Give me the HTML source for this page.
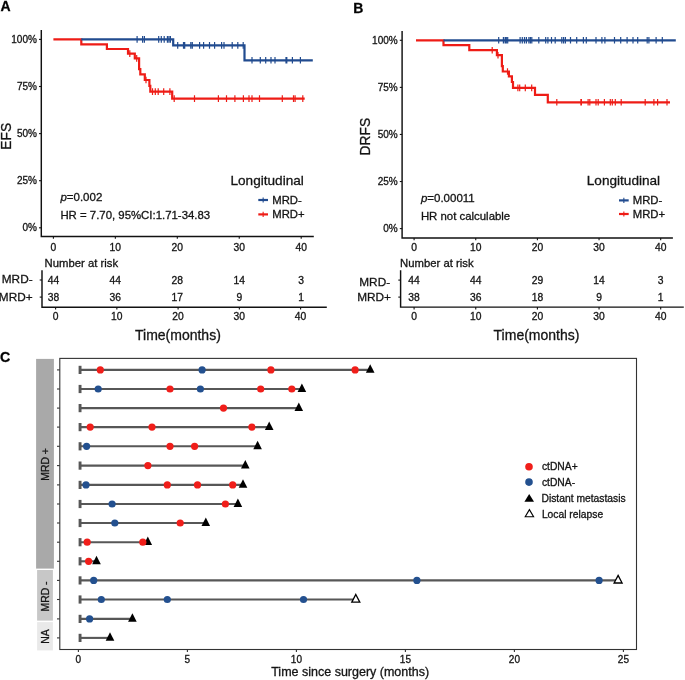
<!DOCTYPE html>
<html><head><meta charset="utf-8"><style>
html,body{margin:0;padding:0;background:#fff;width:685px;height:680px;overflow:hidden}
svg{display:block;font-family:"Liberation Sans", sans-serif;filter:blur(0.3px)}
text{stroke:#111;stroke-width:0.3px}
</style></head><body><svg width="685" height="680" viewBox="0 0 685 680" font-family='"Liberation Sans", sans-serif'><path d="M41.3,30 V236.4 H313.8" fill="none" stroke="#111" stroke-width="1.45"/><line x1="39.00" y1="39.40" x2="41.30" y2="39.40" stroke="#111" stroke-width="1.1"/><text x="36.90" y="43.00" font-size="10.0" text-anchor="end" font-weight="normal" fill="#161616" >100%</text><line x1="39.00" y1="86.50" x2="41.30" y2="86.50" stroke="#111" stroke-width="1.1"/><text x="36.90" y="90.10" font-size="10.0" text-anchor="end" font-weight="normal" fill="#161616" >75%</text><line x1="39.00" y1="133.60" x2="41.30" y2="133.60" stroke="#111" stroke-width="1.1"/><text x="36.90" y="137.20" font-size="10.0" text-anchor="end" font-weight="normal" fill="#161616" >50%</text><line x1="39.00" y1="180.70" x2="41.30" y2="180.70" stroke="#111" stroke-width="1.1"/><text x="36.90" y="184.30" font-size="10.0" text-anchor="end" font-weight="normal" fill="#161616" >25%</text><line x1="39.00" y1="227.80" x2="41.30" y2="227.80" stroke="#111" stroke-width="1.1"/><text x="36.90" y="231.40" font-size="10.0" text-anchor="end" font-weight="normal" fill="#161616" >0%</text><line x1="53.40" y1="236.40" x2="53.40" y2="238.70" stroke="#111" stroke-width="1.1"/><text x="53.40" y="250.70" font-size="10.3" text-anchor="middle" font-weight="normal" fill="#161616" >0</text><line x1="115.35" y1="236.40" x2="115.35" y2="238.70" stroke="#111" stroke-width="1.1"/><text x="115.35" y="250.70" font-size="10.3" text-anchor="middle" font-weight="normal" fill="#161616" >10</text><line x1="177.30" y1="236.40" x2="177.30" y2="238.70" stroke="#111" stroke-width="1.1"/><text x="177.30" y="250.70" font-size="10.3" text-anchor="middle" font-weight="normal" fill="#161616" >20</text><line x1="239.25" y1="236.40" x2="239.25" y2="238.70" stroke="#111" stroke-width="1.1"/><text x="239.25" y="250.70" font-size="10.3" text-anchor="middle" font-weight="normal" fill="#161616" >30</text><line x1="301.20" y1="236.40" x2="301.20" y2="238.70" stroke="#111" stroke-width="1.1"/><text x="301.20" y="250.70" font-size="10.3" text-anchor="middle" font-weight="normal" fill="#161616" >40</text><text x="0" y="0" font-size="13.8" text-anchor="middle" fill="#161616" transform="translate(11.0,136.3) rotate(-90)">EFS</text><path d="M53.4,39.4 H81.3 V44.4 H106.9 V49.0 H128.0 V53.6 H134.8 V58.4 H139.1 V69.1 H140.3 V74.3 H144.8 V80.0 H149.4 V85.8 H150.3 V91.6 H172.2 V98.6 H304.7" fill="none" stroke="#ee1c16" stroke-width="2.2" stroke-linejoin="miter" stroke-linecap="butt"/><path d="M81.3,39.4 H173.2 V45.4 H244.5 V60.3 H312.8" fill="none" stroke="#214b8f" stroke-width="2.2" stroke-linejoin="miter" stroke-linecap="butt"/><path d="M129.80,50.30V56.90M136.70,55.10V61.70M146.00,76.70V83.30M152.50,88.30V94.90M155.30,88.30V94.90M158.20,88.30V94.90M163.70,88.30V94.90M169.90,88.30V94.90M174.20,95.30V101.90M194.50,95.30V101.90M218.40,95.30V101.90M226.50,95.30V101.90M234.90,95.30V101.90M243.40,95.30V101.90M249.00,95.30V101.90M252.00,95.30V101.90M259.50,95.30V101.90M282.30,95.30V101.90M293.50,95.30V101.90M295.10,95.30V101.90M302.80,95.30V101.90" stroke="#ee1c16" stroke-width="1.2"/><path d="M137.10,36.10V42.70M142.60,36.10V42.70M144.40,36.10V42.70M158.70,36.10V42.70M161.30,36.10V42.70M164.20,36.10V42.70M167.40,36.10V42.70M168.90,36.10V42.70M170.40,36.10V42.70M177.70,42.10V48.70M183.50,42.10V48.70M184.70,42.10V48.70M190.80,42.10V48.70M192.30,42.10V48.70M199.60,42.10V48.70M203.60,42.10V48.70M209.50,42.10V48.70M214.60,42.10V48.70M221.60,42.10V48.70M224.00,42.10V48.70M232.20,42.10V48.70M237.80,42.10V48.70M243.20,42.10V48.70M252.00,57.00V63.60M260.30,57.00V63.60M265.70,57.00V63.60M271.00,57.00V63.60M275.00,57.00V63.60M286.00,57.00V63.60M286.80,57.00V63.60M292.40,57.00V63.60M300.40,57.00V63.60" stroke="#214b8f" stroke-width="1.2"/><text x="60.4" y="201.3" font-size="11.5" fill="#161616"><tspan font-style="italic">p</tspan>=0.002</text><text x="60.40" y="218.90" font-size="11.4" text-anchor="start" font-weight="normal" fill="#161616" >HR = 7.70, 95%CI:1.71-34.83</text><text x="230.50" y="185.00" font-size="13.6" text-anchor="start" font-weight="normal" fill="#161616" >Longitudinal</text><line x1="258.30" y1="200.00" x2="268.00" y2="200.00" stroke="#214b8f" stroke-width="2.2"/><line x1="263.15" y1="197.40" x2="263.15" y2="202.60" stroke="#214b8f" stroke-width="1.1"/><line x1="258.30" y1="214.40" x2="268.00" y2="214.40" stroke="#ee1c16" stroke-width="2.2"/><line x1="263.15" y1="211.80" x2="263.15" y2="217.00" stroke="#ee1c16" stroke-width="1.1"/><text x="272.30" y="203.80" font-size="11.3" text-anchor="start" font-weight="normal" fill="#161616" >MRD-</text><text x="272.30" y="218.40" font-size="11.3" text-anchor="start" font-weight="normal" fill="#161616" >MRD+</text><text x="44.60" y="266.60" font-size="11.3" text-anchor="start" font-weight="normal" fill="#161616" >Number at risk</text><path d="M42.0,270.2 V307.3 H326.8" fill="none" stroke="#111" stroke-width="1.45"/><line x1="39.70" y1="280.00" x2="42.00" y2="280.00" stroke="#111" stroke-width="1.1"/><line x1="39.70" y1="297.10" x2="42.00" y2="297.10" stroke="#111" stroke-width="1.1"/><text x="32.60" y="283.10" font-size="11.8" text-anchor="end" font-weight="normal" fill="#161616" >MRD-</text><text x="32.60" y="301.00" font-size="11.8" text-anchor="end" font-weight="normal" fill="#161616" >MRD+</text><text x="53.40" y="283.70" font-size="10.3" text-anchor="middle" font-weight="normal" fill="#161616" >44</text><text x="53.40" y="300.80" font-size="10.3" text-anchor="middle" font-weight="normal" fill="#161616" >38</text><text x="115.35" y="283.70" font-size="10.3" text-anchor="middle" font-weight="normal" fill="#161616" >44</text><text x="115.35" y="300.80" font-size="10.3" text-anchor="middle" font-weight="normal" fill="#161616" >36</text><text x="177.30" y="283.70" font-size="10.3" text-anchor="middle" font-weight="normal" fill="#161616" >28</text><text x="177.30" y="300.80" font-size="10.3" text-anchor="middle" font-weight="normal" fill="#161616" >17</text><text x="239.25" y="283.70" font-size="10.3" text-anchor="middle" font-weight="normal" fill="#161616" >14</text><text x="239.25" y="300.80" font-size="10.3" text-anchor="middle" font-weight="normal" fill="#161616" >9</text><text x="301.20" y="283.70" font-size="10.3" text-anchor="middle" font-weight="normal" fill="#161616" >3</text><text x="301.20" y="300.80" font-size="10.3" text-anchor="middle" font-weight="normal" fill="#161616" >1</text><line x1="55.60" y1="307.30" x2="55.60" y2="309.60" stroke="#111" stroke-width="1.1"/><text x="55.60" y="319.80" font-size="10.3" text-anchor="middle" font-weight="normal" fill="#161616" >0</text><line x1="116.85" y1="307.30" x2="116.85" y2="309.60" stroke="#111" stroke-width="1.1"/><text x="116.85" y="319.80" font-size="10.3" text-anchor="middle" font-weight="normal" fill="#161616" >10</text><line x1="178.10" y1="307.30" x2="178.10" y2="309.60" stroke="#111" stroke-width="1.1"/><text x="178.10" y="319.80" font-size="10.3" text-anchor="middle" font-weight="normal" fill="#161616" >20</text><line x1="239.35" y1="307.30" x2="239.35" y2="309.60" stroke="#111" stroke-width="1.1"/><text x="239.35" y="319.80" font-size="10.3" text-anchor="middle" font-weight="normal" fill="#161616" >30</text><line x1="300.60" y1="307.30" x2="300.60" y2="309.60" stroke="#111" stroke-width="1.1"/><text x="300.60" y="319.80" font-size="10.3" text-anchor="middle" font-weight="normal" fill="#161616" >40</text><text x="177.90" y="339.70" font-size="14.0" text-anchor="middle" font-weight="normal" fill="#161616" >Time(months)</text><text x="0.60" y="11.30" font-size="14" text-anchor="start" font-weight="bold" fill="#000" >A</text><path d="M402.1,31.1 V237.9 H672.9" fill="none" stroke="#111" stroke-width="1.45"/><line x1="399.80" y1="40.30" x2="402.10" y2="40.30" stroke="#111" stroke-width="1.1"/><text x="397.70" y="43.90" font-size="10.0" text-anchor="end" font-weight="normal" fill="#161616" >100%</text><line x1="399.80" y1="87.38" x2="402.10" y2="87.38" stroke="#111" stroke-width="1.1"/><text x="397.70" y="90.97" font-size="10.0" text-anchor="end" font-weight="normal" fill="#161616" >75%</text><line x1="399.80" y1="134.45" x2="402.10" y2="134.45" stroke="#111" stroke-width="1.1"/><text x="397.70" y="138.05" font-size="10.0" text-anchor="end" font-weight="normal" fill="#161616" >50%</text><line x1="399.80" y1="181.53" x2="402.10" y2="181.53" stroke="#111" stroke-width="1.1"/><text x="397.70" y="185.13" font-size="10.0" text-anchor="end" font-weight="normal" fill="#161616" >25%</text><line x1="399.80" y1="228.60" x2="402.10" y2="228.60" stroke="#111" stroke-width="1.1"/><text x="397.70" y="232.20" font-size="10.0" text-anchor="end" font-weight="normal" fill="#161616" >0%</text><line x1="414.10" y1="237.90" x2="414.10" y2="240.20" stroke="#111" stroke-width="1.1"/><text x="414.10" y="251.00" font-size="10.3" text-anchor="middle" font-weight="normal" fill="#161616" >0</text><line x1="475.75" y1="237.90" x2="475.75" y2="240.20" stroke="#111" stroke-width="1.1"/><text x="475.75" y="251.00" font-size="10.3" text-anchor="middle" font-weight="normal" fill="#161616" >10</text><line x1="537.40" y1="237.90" x2="537.40" y2="240.20" stroke="#111" stroke-width="1.1"/><text x="537.40" y="251.00" font-size="10.3" text-anchor="middle" font-weight="normal" fill="#161616" >20</text><line x1="599.05" y1="237.90" x2="599.05" y2="240.20" stroke="#111" stroke-width="1.1"/><text x="599.05" y="251.00" font-size="10.3" text-anchor="middle" font-weight="normal" fill="#161616" >30</text><line x1="660.70" y1="237.90" x2="660.70" y2="240.20" stroke="#111" stroke-width="1.1"/><text x="660.70" y="251.00" font-size="10.3" text-anchor="middle" font-weight="normal" fill="#161616" >40</text><text x="0" y="0" font-size="13.8" text-anchor="middle" fill="#161616" transform="translate(370.0,136.6) rotate(-90)">DRFS</text><path d="M416.0,40.3 H443.5 V45.2 H469.3 V50.2 H496.9 V55.2 H501.9 V66.2 H502.8 V71.5 H508.9 V76.4 H511.9 V82.0 H513.0 V87.9 H535.0 V94.9 H547.8 V102.3 H670.0" fill="none" stroke="#ee1c16" stroke-width="2.2" stroke-linejoin="miter" stroke-linecap="butt"/><path d="M443.5,40.3 H675.8" fill="none" stroke="#214b8f" stroke-width="2.2" stroke-linejoin="miter" stroke-linecap="butt"/><path d="M492.20,46.90V53.50M498.00,51.90V58.50M507.50,68.20V74.80M517.90,84.60V91.20M519.70,84.60V91.20M525.30,84.60V91.20M531.70,84.60V91.20M556.80,99.00V105.60M580.90,99.00V105.60M581.40,99.00V105.60M588.10,99.00V105.60M589.80,99.00V105.60M596.00,99.00V105.60M598.20,99.00V105.60M604.40,99.00V105.60M610.30,99.00V105.60M612.30,99.00V105.60M615.30,99.00V105.60M621.20,99.00V105.60M645.20,99.00V105.60M653.90,99.00V105.60M657.60,99.00V105.60M667.00,99.00V105.60" stroke="#ee1c16" stroke-width="1.2"/><path d="M498.70,37.00V43.60M503.40,37.00V43.60M505.10,37.00V43.60M506.30,37.00V43.60M507.70,37.00V43.60M520.10,37.00V43.60M522.30,37.00V43.60M524.50,37.00V43.60M526.40,37.00V43.60M528.90,37.00V43.60M530.40,37.00V43.60M531.80,37.00V43.60M538.80,37.00V43.60M545.70,37.00V43.60M547.90,37.00V43.60M551.50,37.00V43.60M555.20,37.00V43.60M561.80,37.00V43.60M563.60,37.00V43.60M565.40,37.00V43.60M570.50,37.00V43.60M576.70,37.00V43.60M583.40,37.00V43.60M586.30,37.00V43.60M596.00,37.00V43.60M601.90,37.00V43.60M604.90,37.00V43.60M614.50,37.00V43.60M620.70,37.00V43.60M627.10,37.00V43.60M633.00,37.00V43.60M637.70,37.00V43.60M647.20,37.00V43.60M648.90,37.00V43.60M656.10,37.00V43.60M662.30,37.00V43.60" stroke="#214b8f" stroke-width="1.2"/><text x="420.9" y="201.9" font-size="11.5" fill="#161616"><tspan font-style="italic">p</tspan>=0.00011</text><text x="420.90" y="220.00" font-size="11.4" text-anchor="start" font-weight="normal" fill="#161616" >HR not calculable</text><text x="586.80" y="184.80" font-size="13.6" text-anchor="start" font-weight="normal" fill="#161616" >Longitudinal</text><line x1="619.00" y1="200.40" x2="628.70" y2="200.40" stroke="#214b8f" stroke-width="2.2"/><line x1="623.85" y1="197.80" x2="623.85" y2="203.00" stroke="#214b8f" stroke-width="1.1"/><line x1="619.00" y1="214.00" x2="628.70" y2="214.00" stroke="#ee1c16" stroke-width="2.2"/><line x1="623.85" y1="211.40" x2="623.85" y2="216.60" stroke="#ee1c16" stroke-width="1.1"/><text x="632.80" y="204.20" font-size="11.3" text-anchor="start" font-weight="normal" fill="#161616" >MRD-</text><text x="632.80" y="218.00" font-size="11.3" text-anchor="start" font-weight="normal" fill="#161616" >MRD+</text><text x="400.10" y="266.50" font-size="11.3" text-anchor="start" font-weight="normal" fill="#161616" >Number at risk</text><path d="M400.6,270.3 V307.1 H683.8" fill="none" stroke="#111" stroke-width="1.45"/><line x1="398.30" y1="280.10" x2="400.60" y2="280.10" stroke="#111" stroke-width="1.1"/><line x1="398.30" y1="297.10" x2="400.60" y2="297.10" stroke="#111" stroke-width="1.1"/><text x="390.10" y="286.00" font-size="11.8" text-anchor="end" font-weight="normal" fill="#161616" >MRD-</text><text x="390.90" y="301.00" font-size="11.8" text-anchor="end" font-weight="normal" fill="#161616" >MRD+</text><text x="414.10" y="283.80" font-size="10.3" text-anchor="middle" font-weight="normal" fill="#161616" >44</text><text x="414.10" y="300.80" font-size="10.3" text-anchor="middle" font-weight="normal" fill="#161616" >38</text><text x="475.75" y="283.80" font-size="10.3" text-anchor="middle" font-weight="normal" fill="#161616" >44</text><text x="475.75" y="300.80" font-size="10.3" text-anchor="middle" font-weight="normal" fill="#161616" >36</text><text x="537.40" y="283.80" font-size="10.3" text-anchor="middle" font-weight="normal" fill="#161616" >29</text><text x="537.40" y="300.80" font-size="10.3" text-anchor="middle" font-weight="normal" fill="#161616" >18</text><text x="599.05" y="283.80" font-size="10.3" text-anchor="middle" font-weight="normal" fill="#161616" >14</text><text x="599.05" y="300.80" font-size="10.3" text-anchor="middle" font-weight="normal" fill="#161616" >9</text><text x="660.70" y="283.80" font-size="10.3" text-anchor="middle" font-weight="normal" fill="#161616" >3</text><text x="660.70" y="300.80" font-size="10.3" text-anchor="middle" font-weight="normal" fill="#161616" >1</text><line x1="414.10" y1="307.10" x2="414.10" y2="309.40" stroke="#111" stroke-width="1.1"/><text x="414.10" y="319.60" font-size="10.3" text-anchor="middle" font-weight="normal" fill="#161616" >0</text><line x1="475.75" y1="307.10" x2="475.75" y2="309.40" stroke="#111" stroke-width="1.1"/><text x="475.75" y="319.60" font-size="10.3" text-anchor="middle" font-weight="normal" fill="#161616" >10</text><line x1="537.40" y1="307.10" x2="537.40" y2="309.40" stroke="#111" stroke-width="1.1"/><text x="537.40" y="319.60" font-size="10.3" text-anchor="middle" font-weight="normal" fill="#161616" >20</text><line x1="599.05" y1="307.10" x2="599.05" y2="309.40" stroke="#111" stroke-width="1.1"/><text x="599.05" y="319.60" font-size="10.3" text-anchor="middle" font-weight="normal" fill="#161616" >30</text><line x1="660.70" y1="307.10" x2="660.70" y2="309.40" stroke="#111" stroke-width="1.1"/><text x="660.70" y="319.60" font-size="10.3" text-anchor="middle" font-weight="normal" fill="#161616" >40</text><text x="536.50" y="340.00" font-size="14.0" text-anchor="middle" font-weight="normal" fill="#161616" >Time(months)</text><text x="353.20" y="12.90" font-size="14" text-anchor="start" font-weight="bold" fill="#000" >B</text><text x="0.10" y="361.70" font-size="14.2" text-anchor="start" font-weight="bold" fill="#000" >C</text><rect x="36.1" y="358.9" width="17.8" height="209.7" fill="#a9a9a9"/><rect x="37.1" y="570.0" width="15.8" height="50.6" fill="#c7c7c7"/><rect x="37.1" y="622.1" width="15.8" height="28.3" fill="#e9e9e9"/><text x="0" y="0" font-size="10.4" text-anchor="middle" fill="#161616" transform="translate(48.8,464.4) rotate(-90)">MRD +</text><text x="0" y="0" font-size="10.4" text-anchor="middle" fill="#161616" transform="translate(48.8,596.5) rotate(-90)">MRD -</text><text x="0" y="0" font-size="10.4" text-anchor="middle" fill="#161616" transform="translate(48.8,636.6) rotate(-90)">NA</text><rect x="59.8" y="358.4" width="576.7" height="291.1" fill="none" stroke="#333" stroke-width="1.1"/><line x1="57.00" y1="369.90" x2="59.80" y2="369.90" stroke="#333" stroke-width="1.1"/><line x1="80.00" y1="369.90" x2="369.90" y2="369.90" stroke="#575757" stroke-width="2.1"/><rect x="78.6" y="365.80" width="2.9" height="8.2" fill="#575757"/><path d="M370.20,364.30 L374.50,372.80 L365.90,372.80 Z" fill="#000"/><circle cx="100.30" cy="369.90" r="3.6" fill="#f01e1a"/><circle cx="202.10" cy="369.90" r="3.6" fill="#23508f"/><circle cx="270.90" cy="369.90" r="3.6" fill="#f01e1a"/><circle cx="355.10" cy="369.90" r="3.6" fill="#f01e1a"/><line x1="57.00" y1="389.00" x2="59.80" y2="389.00" stroke="#333" stroke-width="1.1"/><line x1="80.00" y1="389.00" x2="301.60" y2="389.00" stroke="#575757" stroke-width="2.1"/><rect x="78.6" y="384.90" width="2.9" height="8.2" fill="#575757"/><path d="M301.90,383.40 L306.20,391.90 L297.60,391.90 Z" fill="#000"/><circle cx="98.20" cy="389.00" r="3.6" fill="#23508f"/><circle cx="170.00" cy="389.00" r="3.6" fill="#f01e1a"/><circle cx="200.40" cy="389.00" r="3.6" fill="#23508f"/><circle cx="260.70" cy="389.00" r="3.6" fill="#f01e1a"/><circle cx="291.80" cy="389.00" r="3.6" fill="#f01e1a"/><line x1="57.00" y1="408.10" x2="59.80" y2="408.10" stroke="#333" stroke-width="1.1"/><line x1="80.00" y1="408.10" x2="298.50" y2="408.10" stroke="#575757" stroke-width="2.1"/><rect x="78.6" y="404.00" width="2.9" height="8.2" fill="#575757"/><path d="M298.80,402.50 L303.10,411.00 L294.50,411.00 Z" fill="#000"/><circle cx="223.50" cy="408.10" r="3.6" fill="#f01e1a"/><line x1="57.00" y1="427.10" x2="59.80" y2="427.10" stroke="#333" stroke-width="1.1"/><line x1="80.00" y1="427.10" x2="268.90" y2="427.10" stroke="#575757" stroke-width="2.1"/><rect x="78.6" y="423.00" width="2.9" height="8.2" fill="#575757"/><path d="M269.20,421.50 L273.50,430.00 L264.90,430.00 Z" fill="#000"/><circle cx="90.20" cy="427.10" r="3.6" fill="#f01e1a"/><circle cx="152.00" cy="427.10" r="3.6" fill="#f01e1a"/><circle cx="251.90" cy="427.10" r="3.6" fill="#f01e1a"/><line x1="57.00" y1="446.30" x2="59.80" y2="446.30" stroke="#333" stroke-width="1.1"/><line x1="80.00" y1="446.30" x2="257.30" y2="446.30" stroke="#575757" stroke-width="2.1"/><rect x="78.6" y="442.20" width="2.9" height="8.2" fill="#575757"/><path d="M257.60,440.70 L261.90,449.20 L253.30,449.20 Z" fill="#000"/><circle cx="86.60" cy="446.30" r="3.6" fill="#23508f"/><circle cx="170.00" cy="446.30" r="3.6" fill="#f01e1a"/><circle cx="194.60" cy="446.30" r="3.6" fill="#f01e1a"/><line x1="57.00" y1="465.60" x2="59.80" y2="465.60" stroke="#333" stroke-width="1.1"/><line x1="80.00" y1="465.60" x2="245.00" y2="465.60" stroke="#575757" stroke-width="2.1"/><rect x="78.6" y="461.50" width="2.9" height="8.2" fill="#575757"/><path d="M245.30,460.00 L249.60,468.50 L241.00,468.50 Z" fill="#000"/><circle cx="147.90" cy="465.60" r="3.6" fill="#f01e1a"/><line x1="57.00" y1="484.90" x2="59.80" y2="484.90" stroke="#333" stroke-width="1.1"/><line x1="80.00" y1="484.90" x2="242.70" y2="484.90" stroke="#575757" stroke-width="2.1"/><rect x="78.6" y="480.80" width="2.9" height="8.2" fill="#575757"/><path d="M243.00,479.30 L247.30,487.80 L238.70,487.80 Z" fill="#000"/><circle cx="86.00" cy="484.90" r="3.6" fill="#23508f"/><circle cx="167.30" cy="484.90" r="3.6" fill="#f01e1a"/><circle cx="197.50" cy="484.90" r="3.6" fill="#f01e1a"/><circle cx="232.70" cy="484.90" r="3.6" fill="#f01e1a"/><line x1="57.00" y1="504.00" x2="59.80" y2="504.00" stroke="#333" stroke-width="1.1"/><line x1="80.00" y1="504.00" x2="237.60" y2="504.00" stroke="#575757" stroke-width="2.1"/><rect x="78.6" y="499.90" width="2.9" height="8.2" fill="#575757"/><path d="M237.90,498.40 L242.20,506.90 L233.60,506.90 Z" fill="#000"/><circle cx="112.10" cy="504.00" r="3.6" fill="#23508f"/><circle cx="225.40" cy="504.00" r="3.6" fill="#f01e1a"/><line x1="57.00" y1="523.00" x2="59.80" y2="523.00" stroke="#333" stroke-width="1.1"/><line x1="80.00" y1="523.00" x2="205.50" y2="523.00" stroke="#575757" stroke-width="2.1"/><rect x="78.6" y="518.90" width="2.9" height="8.2" fill="#575757"/><path d="M205.80,517.40 L210.10,525.90 L201.50,525.90 Z" fill="#000"/><circle cx="114.80" cy="523.00" r="3.6" fill="#23508f"/><circle cx="180.20" cy="523.00" r="3.6" fill="#f01e1a"/><line x1="57.00" y1="542.20" x2="59.80" y2="542.20" stroke="#333" stroke-width="1.1"/><line x1="80.00" y1="542.20" x2="147.50" y2="542.20" stroke="#575757" stroke-width="2.1"/><rect x="78.6" y="538.10" width="2.9" height="8.2" fill="#575757"/><path d="M147.80,536.60 L152.10,545.10 L143.50,545.10 Z" fill="#000"/><circle cx="87.20" cy="542.20" r="3.6" fill="#f01e1a"/><circle cx="142.80" cy="542.20" r="3.6" fill="#f01e1a"/><line x1="57.00" y1="561.30" x2="59.80" y2="561.30" stroke="#333" stroke-width="1.1"/><line x1="80.00" y1="561.30" x2="96.20" y2="561.30" stroke="#575757" stroke-width="2.1"/><rect x="78.6" y="557.20" width="2.9" height="8.2" fill="#575757"/><path d="M96.50,555.70 L100.80,564.20 L92.20,564.20 Z" fill="#000"/><circle cx="88.60" cy="561.30" r="3.6" fill="#f01e1a"/><line x1="57.00" y1="580.40" x2="59.80" y2="580.40" stroke="#333" stroke-width="1.1"/><line x1="80.00" y1="580.40" x2="618.10" y2="580.40" stroke="#575757" stroke-width="2.1"/><rect x="78.6" y="576.30" width="2.9" height="8.2" fill="#575757"/><path d="M618.10,575.40 L622.10,583.00 L614.10,583.00 Z" fill="#fff" stroke="#000" stroke-width="1.3"/><circle cx="93.70" cy="580.40" r="3.6" fill="#23508f"/><circle cx="416.90" cy="580.40" r="3.6" fill="#23508f"/><circle cx="599.10" cy="580.40" r="3.6" fill="#23508f"/><line x1="57.00" y1="599.50" x2="59.80" y2="599.50" stroke="#333" stroke-width="1.1"/><line x1="80.00" y1="599.50" x2="355.80" y2="599.50" stroke="#575757" stroke-width="2.1"/><rect x="78.6" y="595.40" width="2.9" height="8.2" fill="#575757"/><path d="M355.80,594.50 L359.80,602.10 L351.80,602.10 Z" fill="#fff" stroke="#000" stroke-width="1.3"/><circle cx="101.30" cy="599.50" r="3.6" fill="#23508f"/><circle cx="167.30" cy="599.50" r="3.6" fill="#23508f"/><circle cx="303.50" cy="599.50" r="3.6" fill="#23508f"/><line x1="57.00" y1="618.90" x2="59.80" y2="618.90" stroke="#333" stroke-width="1.1"/><line x1="80.00" y1="618.90" x2="132.10" y2="618.90" stroke="#575757" stroke-width="2.1"/><rect x="78.6" y="614.80" width="2.9" height="8.2" fill="#575757"/><path d="M132.40,613.30 L136.70,621.80 L128.10,621.80 Z" fill="#000"/><circle cx="89.60" cy="618.90" r="3.6" fill="#23508f"/><line x1="57.00" y1="637.90" x2="59.80" y2="637.90" stroke="#333" stroke-width="1.1"/><line x1="80.00" y1="637.90" x2="109.70" y2="637.90" stroke="#575757" stroke-width="2.1"/><rect x="78.6" y="633.80" width="2.9" height="8.2" fill="#575757"/><path d="M110.00,632.30 L114.30,640.80 L105.70,640.80 Z" fill="#000"/><line x1="78.40" y1="649.50" x2="78.40" y2="651.90" stroke="#333" stroke-width="1.1"/><text x="78.40" y="662.60" font-size="10.0" text-anchor="middle" font-weight="normal" fill="#161616" >0</text><line x1="187.40" y1="649.50" x2="187.40" y2="651.90" stroke="#333" stroke-width="1.1"/><text x="187.40" y="662.60" font-size="10.0" text-anchor="middle" font-weight="normal" fill="#161616" >5</text><line x1="296.40" y1="649.50" x2="296.40" y2="651.90" stroke="#333" stroke-width="1.1"/><text x="296.40" y="662.60" font-size="10.0" text-anchor="middle" font-weight="normal" fill="#161616" >10</text><line x1="405.40" y1="649.50" x2="405.40" y2="651.90" stroke="#333" stroke-width="1.1"/><text x="405.40" y="662.60" font-size="10.0" text-anchor="middle" font-weight="normal" fill="#161616" >15</text><line x1="514.40" y1="649.50" x2="514.40" y2="651.90" stroke="#333" stroke-width="1.1"/><text x="514.40" y="662.60" font-size="10.0" text-anchor="middle" font-weight="normal" fill="#161616" >20</text><line x1="623.40" y1="649.50" x2="623.40" y2="651.90" stroke="#333" stroke-width="1.1"/><text x="623.40" y="662.60" font-size="10.0" text-anchor="middle" font-weight="normal" fill="#161616" >25</text><text x="271.20" y="675.80" font-size="12.5" text-anchor="start" font-weight="normal" fill="#161616" >Time since surgery (months)</text><circle cx="529.0" cy="466.8" r="3.8" fill="#f01e1a"/><circle cx="529.0" cy="482.1" r="3.8" fill="#23508f"/><path d="M529.2,493.9 L534.0,501.7 L524.4,501.7 Z" fill="#000"/><path d="M529.4,509.6 L533.6,516.8 L525.2,516.8 Z" fill="#fff" stroke="#000" stroke-width="1.1"/><text x="541.90" y="469.80" font-size="10.3" text-anchor="start" font-weight="normal" fill="#161616" >ctDNA+</text><text x="541.90" y="485.80" font-size="10.3" text-anchor="start" font-weight="normal" fill="#161616" >ctDNA-</text><text x="541.50" y="502.10" font-size="10.3" text-anchor="start" font-weight="normal" fill="#161616" >Distant metastasis</text><text x="541.90" y="517.90" font-size="10.3" text-anchor="start" font-weight="normal" fill="#161616" >Local relapse</text></svg></body></html>
